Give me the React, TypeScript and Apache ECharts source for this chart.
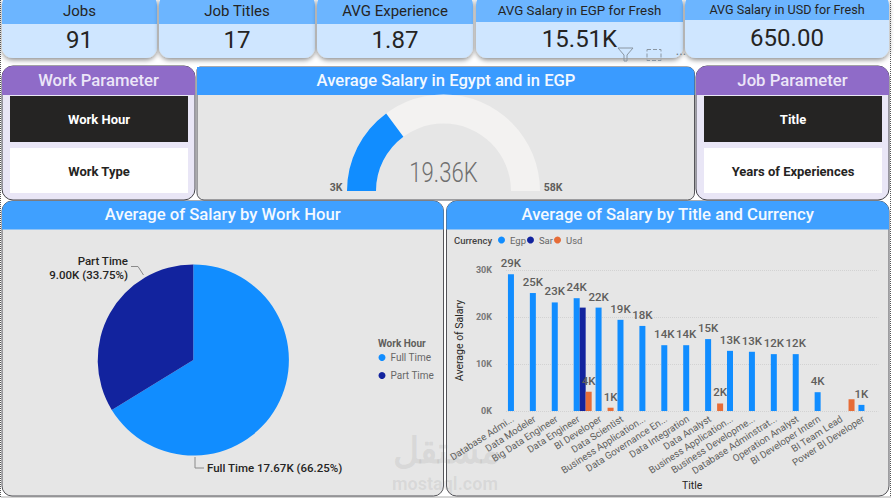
import React, { useEffect, useRef } from "react";
import * as echarts from "echarts";

const titles = ["Database Admi...", "Data Modeler", "Big Data Engineer", "Data Engineer", "BI Developer", "Data Scientist", "Business Application...", "Data Governance En...", "Data Integration", "Data Analyst", "Business Application...", "Business Developme...", "Database Adminstrat...", "Operation Analyst", "BI Developer Intern", "BI Team Lead", "Power BI Developer"];
const egp = [29100, 25100, 23100, 24000, 22000, 19400, 18100, 14000, 14000, 15300, 12800, 12600, 12100, 12100, 4000, null, 1300];
const sar = [null, null, null, 22000, null, null, null, null, null, null, null, null, null, null, null, null, null];
const usd = [null, null, null, 4100, 700, null, null, null, null, 1600, null, null, null, null, null, 2500, null];
const hiddenUsdLabels = ["BI Team Lead"];
const workHours = ["Full Time", "Part Time"];
const workHourSalary = [17670, 9000];
const workHourPct = ["66.25%", "33.75%"];
const gaugeValue = 19360;
const gaugeMin = 3000;
const gaugeMax = 58000;
const kpis = [
  { label: "Jobs", value: "91", x: 2, w: 155, hb: 24, f: 15, vf: 24 },
  { label: "Job Titles", value: "17", x: 159, w: 156, hb: 24, f: 15, vf: 24 },
  { label: "AVG Experience", value: "1.87", x: 317, w: 156, hb: 24, f: 15, vf: 24 },
  { label: "AVG Salary in EGP for Fresh", value: "15.51K", x: 476, w: 207, hb: 22, f: 13.3, vf: 24 },
  { label: "AVG Salary in USD for Fresh", value: "650.00", x: 685, w: 204, hb: 20, f: 12.6, vf: 24 },
];

const FONT = "Roboto";
const BLUE = "#118dff";
const NAVY = "#12239e";
const ORANGE = "#e66c37";

const txt = (x: number, y: number, text: string, size: number, fill: string, weight: any = 400, align: any = "center", extra: any = {}) => ({
  type: "text", x, y, ...extra,
  style: { text, fontSize: size, fill, fontWeight: weight, fontFamily: FONT, align, verticalAlign: "middle" },
});
const box = (x: number, y: number, w: number, h: number, r: any, fill: string, extra: any = {}, styleExtra: any = {}) => ({
  type: "rect", ...extra, shape: { x, y, width: w, height: h, r }, style: { fill, ...styleExtra },
});

function kpiCards() {
  const out: any[] = [];
  kpis.forEach((k) => {
    out.push(box(k.x, -6, k.w, 64, 11, "#cfe6ff", {}, { shadowBlur: 5, shadowColor: "rgba(0,0,0,0.45)", shadowOffsetY: 2 }));
    out.push(box(k.x, -6, k.w, 6 + k.hb, [11, 11, 0, 0], "#6cb5ff"));
    out.push(txt(k.x + k.w / 2, k.hb / 2 - 1, k.label, k.f, "#252423"));
    out.push(txt(k.x + k.w / 2, (k.hb + 58) / 2 - 1, k.value, k.vf, "#252423"));
  });
  return out;
}

function paramPanel(x: number, title: string, first: string, second: string) {
  return [
    box(x, 66, 193, 134, 11, "#e9e6f6", {}, { stroke: "#44444a", lineWidth: 1 }),
    box(x, 66, 193, 29, [11, 11, 0, 0], "#8f6bc8"),
    txt(x + 96.5, 80, title, 16.7, "#ece6f8", 500),
    box(x + 8, 96, 178, 46, 0, "#252423"),
    txt(x + 97, 119, first, 13, "#ffffff", 700),
    box(x + 8, 148, 178, 45, 0, "#ffffff"),
    txt(x + 97, 171.5, second, 13, "#252423", 700),
  ];
}

function chartPanel(x: number, w: number, title: string) {
  return [
    box(x, 201, w, 295, 10, "#e6e6e6", {}, { stroke: "#55555a", lineWidth: 1 }),
    box(x, 201, w, 28.5, [10, 10, 0, 0], "#3fa0ff"),
    txt(x + w / 2, 214.5, title, 16.7, "#f4f9ff", 500),
  ];
}

const frame = [
  { type: "polyline", shape: { points: [[0.5, 0], [0.5, 497], [890.5, 497], [890.5, 0]] }, style: { fill: "none", stroke: "#555555", lineWidth: 1, lineDash: [1, 1] } },
];

export default function App() {
  const ref = useRef<HTMLDivElement>(null);
  useEffect(() => {
    document.body.style.margin = "0";
    const chart = echarts.init(ref.current!, undefined, { renderer: "svg" });
    chart.setOption({
      animation: false,
      textStyle: { fontFamily: FONT },
      grid: { left: 506, top: 270, width: 372.4, height: 141, containLabel: false },
      xAxis: {
        type: "category", data: titles,
        axisLine: { show: false }, axisTick: { show: false },
        axisLabel: { interval: 0, rotate: 33, fontSize: 9.7, color: "#605e5c", margin: 4, padding: [0, 5, 0, 0], fontFamily: FONT },
        name: "Title", nameLocation: "middle", nameGap: 69,
        nameTextStyle: { fontSize: 10.5, color: "#252423", fontFamily: FONT },
      },
      yAxis: {
        type: "value", min: 0, max: 30000, interval: 10000,
        axisLabel: { formatter: (v: number) => `${v / 1000}K`, fontSize: 9, color: "#777777", fontWeight: 700, margin: 14, fontFamily: FONT },
        splitLine: { lineStyle: { type: "dotted", color: "#d2d2d2", width: 1 } },
        name: "Average of Salary", nameLocation: "middle", nameGap: 41,
        nameTextStyle: { fontSize: 10.5, color: "#252423", fontFamily: FONT },
      },
      legend: [
        {
          data: workHours, orient: "vertical", left: 378.5, top: 352.5, padding: 0, itemWidth: 7, itemHeight: 7, itemGap: 8, icon: "circle",
          textStyle: { fontSize: 10, color: "#666666", fontFamily: FONT },
        },
        {
          data: ["Egp", "Sar", "Usd"], orient: "horizontal", left: 498, top: 235, padding: 0, itemWidth: 7, itemHeight: 7, itemGap: 1, icon: "circle",
          textStyle: { fontSize: 9.5, color: "#666666", fontFamily: FONT },
        },
      ],
      graphic: [
        ...kpiCards(),
        ...paramPanel(2, "Work Parameter", "Work Hour", "Work Type"),
        ...paramPanel(696, "Job Parameter", "Title", "Years of Experiences"),
        box(197, 67, 497.5, 133, [3, 7, 7, 7], "#e6e6e6", {}, { stroke: "#55555a", lineWidth: 1 }),
        box(197, 67, 497.5, 28, [0, 7, 0, 0], "#3a9bff"),
        txt(446, 80, "Average Salary in Egypt and in EGP", 16.6, "#f4f9ff", 500),
        txt(336, 187, "3K", 10.5, "#605e5c", 700),
        txt(553, 187, "58K", 10.5, "#605e5c", 700),
        { ...txt(443.5, 173, `${(gaugeValue / 1000).toFixed(2)}K`, 27, "#6f6f6f", 300, "center", { scaleX: 0.82 }), z: 50 },
        ...chartPanel(2, 441.5, "Average of Salary by Work Hour"),
        ...chartPanel(446.5, 442.5, "Average of Salary by Title and Currency"),
        txt(378, 343, "Work Hour", 10, "#605e5c", 700, "left"),
        txt(454, 240, "Currency", 9.5, "#444444", 500, "left"),
        ...frame,
        {
          type: "polyline", z: 50,
          shape: { points: [[618, 48], [633, 48], [627, 55], [627, 61], [624, 61], [624, 55], [618, 48]] },
          style: { fill: "none", stroke: "#8a96a2", lineWidth: 1 },
        },
        {
          type: "rect", z: 50, shape: { x: 647, y: 49.5, width: 14, height: 11 },
          style: { fill: "none", stroke: "#8a96a2", lineWidth: 1, lineDash: [4, 2] },
        },
        { ...txt(681, 50, "...", 13, "#6d7a86"), z: 50 },
        { ...txt(446, 451, "مستقل", 36, "rgba(120,120,120,0.13)", 700, "center"), z: 50 },
        { ...txt(445, 483, "mostaql.com", 18, "rgba(120,120,120,0.13)", 700, "center"), z: 50 },
      ],
      series: [
        {
          type: "gauge", center: [443.5, 191], radius: 96.5, startAngle: 180, endAngle: 0, min: gaugeMin, max: gaugeMax,
          data: [{ value: gaugeValue }],
          axisLine: { lineStyle: { width: 29, color: [[1, "#f3f2f1"]] } },
          progress: { show: true, width: 29, itemStyle: { color: BLUE } },
          pointer: { show: false }, axisTick: { show: false }, splitLine: { show: false }, axisLabel: { show: false }, anchor: { show: false }, title: { show: false },
          detail: { show: false },
        },
        {
          type: "pie", center: [193.3, 360], radius: [0, 95.6], startAngle: 90, clockwise: true,
          color: [BLUE, NAVY],
          data: workHours.map((name, i) => ({ name, value: workHourSalary[i] })),
          label: {
            show: true, fontSize: 11.5, fontWeight: 500, color: "#252423", fontFamily: FONT, lineHeight: 14, overflow: "none",
            formatter: (p: any) => {
              const val = `${(p.value / 1000).toFixed(2)}K (${workHourPct[p.dataIndex]})`;
              return p.dataIndex === 0 ? `${p.name} ${val}` : `${p.name}\n${val}`;
            },
          },
          labelLine: { show: true, lineStyle: { color: "#8a8a8a", width: 1 } },
          labelLayout: (p: any) =>
            p.dataIndex === 0
              ? { x: 207, y: 468, align: "left", verticalAlign: "middle", labelLinePoints: [[195, 457], [195, 468], [204, 468]] }
              : { x: 128, y: 268, align: "right", verticalAlign: "middle", labelLinePoints: [[143.5, 275], [138, 266.5], [131, 266.5]] },
        },
        {
          type: "bar", name: "Egp", data: egp, barWidth: 6, barGap: 0, itemStyle: { color: BLUE },
          label: { show: true, position: "top", fontSize: 11.5, fontWeight: 500, color: "#605e5c", fontFamily: FONT, formatter: (p: any) => `${Math.round(p.value / 1000)}K` },
        },
        { type: "bar", name: "Sar", data: sar, barWidth: 6, barGap: 0, itemStyle: { color: NAVY } },
        {
          type: "bar", name: "Usd", barWidth: 6, barGap: 0, itemStyle: { color: ORANGE },
          data: usd.map((v, i) => ({ value: v, label: { show: v != null && !hiddenUsdLabels.includes(titles[i]) } })),
          label: { show: true, position: "top", fontSize: 11.5, fontWeight: 500, color: "#605e5c", fontFamily: FONT, formatter: (p: any) => `${Math.round(p.value / 1000)}K` },
        },
      ],
    });
    return () => chart.dispose();
  }, []);
  return <div ref={ref} style={{ width: 894, height: 498 }} />;
}
